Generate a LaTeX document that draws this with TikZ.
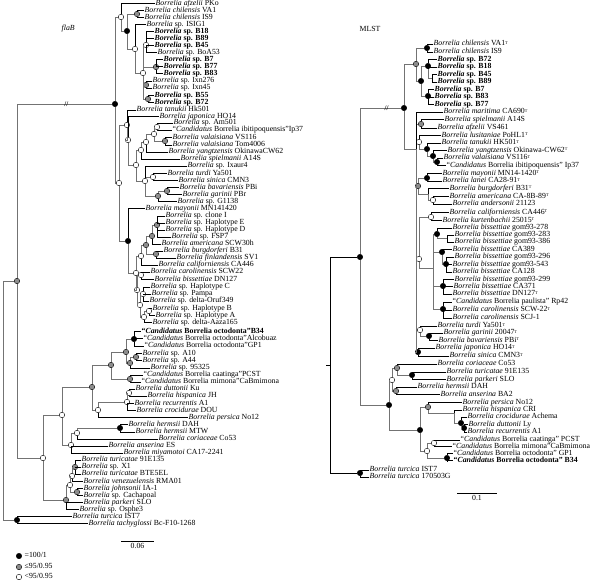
\documentclass[tikz,border=0pt]{standalone}
\usepackage{fontspec}
\setmainfont{Liberation Serif}
\usepackage{tikz}

\newcommand{\Bo}[2]{\textit{Borrelia #1} #2}
\newcommand{\Bs}[1]{\textit{Borrelia} sp. #1}
\newcommand{\Bb}[1]{\textbf{\textit{Borrelia} sp. #1}}
\newcommand{\Cand}[2]{“\textit{Candidatus} Borrelia #1”#2}
\newcommand{\Ty}{\raisebox{1.6pt}{\fontsize{4.2}{4}\selectfont T}}

\begin{document}
\begin{tikzpicture}[x=1pt, y=-1pt,
    lf/.style={anchor=west, inner sep=0.5pt, text height=5pt, text depth=1.5pt, font=\fontsize{7.8}{8}\selectfont},
    nb/.style={circle, draw=black, fill=black, line width=0.4pt, minimum size=5.5pt, inner sep=0pt},
    ng/.style={nb, fill=black!45},
    nw/.style={nb, fill=white},
    ik/.style={draw=black!55, line width=0.9pt},
    lk/.style={draw=black, line width=0.5pt},
    brk/.style={inner sep=0pt, font=\fontsize{7}{7}\selectfont\bfseries}
]
\useasboundingbox (0,0) rectangle (600,582);

% flaB tree
\node[lf, font=\fontsize{7.8}{8}\selectfont\itshape] (flab) at (61,29) {flaB};

\node[lf] (l-afz) at (155,3.5) {\Bo{afzelii}{PKo}};
\node[lf] (l-chva) at (144,10.5) {\Bo{chilensis}{VA1}};
\node[lf] (l-chis) at (144,17.5) {\Bo{chilensis}{IS9}};
\node[lf] (l-isig) at (146,24.5) {\Bs{ISIG1}};
\node[lf] (l-b18) at (154,31.5) {\Bb{B18}};
\node[lf] (l-b89) at (154,38.5) {\Bb{B89}};
\node[lf] (l-b45) at (154,45.5) {\Bb{B45}};
\node[lf] (l-boa) at (157,52.5) {\Bs{BoA53}};
\node[lf] (l-b7) at (163,59.5) {\Bb{B7}};
\node[lf] (l-b77) at (163,66.5) {\Bb{B77}};
\node[lf] (l-b83) at (163,73.5) {\Bb{B83}};
\node[lf] (l-ix276) at (152,81) {\Bs{Ixn276}};
\node[lf] (l-ix45) at (152,88) {\Bs{Ixn45}};
\node[lf] (l-b55) at (154,95.5) {\Bb{B55}};
\node[lf] (l-b72) at (154,102.5) {\Bb{B72}};
\node[lf] (l-tan) at (136,110) {\Bo{tanukii}{Hk501}};
\node[lf] (l-jap) at (159,116.5) {\Bo{japonica}{HO14}};
\node[lf] (l-am) at (173,123) {\Bs{Am501}};
\node[lf] (l-ibi) at (172,130) {\Cand{ibitipoquensis}{Ip37}};
\node[lf] (l-vs) at (172,137.5) {\Bo{valaisiana}{VS116}};
\node[lf] (l-tom) at (172,145) {\Bo{valaisiana}{Tom4006}};
\node[lf] (l-yan) at (168,152) {\Bo{yangtzensis}{OkinawaCW62}};
\node[lf] (l-spi) at (180,159) {\Bo{spielmanii}{A14S}};
\node[lf] (l-ixa) at (187,166) {\Bs{Ixaur4}};
\node[lf] (l-tur) at (167,173.5) {\Bo{turdi}{Ya501}};
\node[lf] (l-sin) at (178,180.5) {\Bo{sinica}{CMN3}};
\node[lf] (l-bav) at (179,187.5) {\Bo{bavariensis}{PBi}};
\node[lf] (l-gar) at (182,194.5) {\Bo{garinii}{PBr}};
\node[lf] (l-g11) at (177,201.5) {\Bs{G1138}};
\node[lf] (l-may) at (145,208.5) {\Bo{mayonii}{MN141420}};
\node[lf] (l-clI) at (165,216) {\Bs{clone I}};
\node[lf] (l-hE) at (165,223) {\Bs{Haplotype E}};
\node[lf] (l-hD) at (165,230) {\Bs{Haplotype D}};
\node[lf] (l-fsp) at (171,237) {\Bs{FSP7}};
\node[lf] (l-ame) at (161,244) {\Bo{americana}{SCW30h}};
\node[lf] (l-bur) at (163,251) {\Bo{burgdorferi}{B31}};
\node[lf] (l-fin) at (176,258) {\Bo{finlandensis}{SV1}};
\node[lf] (l-cal) at (158,265) {\Bo{californiensis}{CA446}};
\node[lf] (l-carS) at (150,272) {\Bo{carolinensis}{SCW22}};
\node[lf] (l-dn) at (154,279.5) {\Bo{bissettiae}{DN127}};
\node[lf] (l-hC) at (150,287) {\Bs{Haplotype C}};
\node[lf] (l-pum) at (151,294) {\Bs{Pampa}};
\node[lf] (l-oru) at (149,301) {\Bs{delta-Oruf349}};
\node[lf] (l-hB) at (152,308.5) {\Bs{Haplotype B}};
\node[lf] (l-hA) at (155,315.5) {\Bs{Haplotype A}};
\node[lf] (l-aaz) at (152,322.5) {\Bs{delta-Aaza165}};
\node[lf] (l-o34) at (141,331.5) {\textbf{\Cand{octodonta}{B34}}};
\node[lf] (l-oal) at (143,338.5) {\Cand{octodonta}{Alcobuaz}};
\node[lf] (l-ogp) at (144,346) {\Cand{octodonta}{GP1}};
\node[lf] (l-a10) at (142,353.5) {\Bs{A10}};
\node[lf] (l-a44) at (142,360.5) {\Bs{A44}};
\node[lf] (l-953) at (150,368) {\Bs{95325}};
\node[lf] (l-caa) at (143,375) {\Cand{caatinga}{PCST}};
\node[lf] (l-mim) at (141,382) {\Cand{mimona}{CaBmimona}};
\node[lf] (l-dut) at (135,389) {\Bo{duttonii}{Ku}};
\node[lf] (l-his) at (147,396) {\Bo{hispanica}{JH}};
\node[lf] (l-rec) at (134,403.5) {\Bo{recurrentis}{A1}};
\node[lf] (l-cro) at (136,410.5) {\Bo{crocidurae}{DOU}};
\node[lf] (l-per) at (188,417.5) {\Bo{persica}{No12}};
\node[lf] (l-hda) at (128,424.5) {\Bo{hermsii}{DAH}};
\node[lf] (l-hmt) at (135,432) {\Bo{hermsii}{MTW}};
\node[lf] (l-cor) at (158,439) {\Bo{coriaceae}{Co53}};
\node[lf] (l-ans) at (108,446) {\Bo{anserina}{ES}};
\node[lf] (l-miy) at (123,453) {\Bo{miyamotoi}{CA17-2241}};
\node[lf] (l-t91) at (81,460) {\Bo{turicatae}{91E135}};
\node[lf] (l-x1) at (81,467) {\Bs{X1}};
\node[lf] (l-bte) at (81,474) {\Bo{turicatae}{BTE5EL}};
\node[lf] (l-ven) at (83,481.5) {\Bo{venezuelensis}{RMA01}};
\node[lf] (l-joh) at (83,488.5) {\Bo{johnsonii}{IA-1}};
\node[lf] (l-cac) at (83,495.5) {\Bs{Cachapoal}};
\node[lf] (l-par) at (83,502.5) {\Bo{parkeri}{SLO}};
\node[lf] (l-osp) at (79,509.5) {\Bs{Osphe3}};
\node[lf] (l-ist) at (72,516.5) {\Bo{turcica}{IST7}};
\node[lf] (l-tac) at (88,523.5) {\Bo{tachyglossi}{Bc-F10-1268}};

\coordinate (r0) at (3,401);
\node[ng] (g0) at (17,281) {};
\node[nb] (t) at (17,520) {};
\node[nb] (m) at (115,104) {};
\node[nw] (a1) at (121,17) {};
\node[nb] (a2) at (127,31) {};
\node[ng] (a3) at (137,14) {};
\node[nw] (a4) at (135,49) {};
\node[nw] (a5) at (143,73) {};
\node[nw] (a6) at (146,45) {};
\node[ng] (a7) at (156,67) {};
\node[ng] (a8) at (146,85) {};
\node[ng] (a9) at (148,99) {};
\node[nw] (n1) at (119,183) {};
\node[nw] (p1) at (127,125) {};
\node[nw] (p2) at (128,140) {};
\node[nw] (p3) at (136,165) {};
\node[nw] (v1) at (141,150) {};
\node[nw] (v2) at (146,142) {};
\node[nw] (v3) at (154,134) {};
\node[nw] (v4) at (157,127) {};
\node[ng] (vv) at (165,141) {};
\node[nw] (w0) at (145,181) {};
\node[nw] (w2) at (153,177) {};
\node[ng] (w3) at (158,196) {};
\node[ng] (w4) at (167,191) {};
\node[nb] (q) at (128,241) {};
\node[nw] (q2) at (136,273) {};
\node[nw] (q3) at (141,256) {};
\node[ng] (q5) at (146,245) {};
\node[ng] (q6) at (152,236) {};
\node[ng] (q8) at (157,225) {};
\node[ng] (q7) at (156,254) {};
\node[nw] (q4) at (137,290) {};
\node[nw] (q9) at (141,275) {};
\node[nw] (q10) at (140,305) {};
\node[nw] (q11) at (143,294) {};
\node[nw] (q12) at (144,317) {};
\node[nw] (q13) at (149,311) {};
\node[nw] (r) at (43,458) {};
\node[nw] (r1) at (62,415) {};
\node[ng] (r3) at (92,387) {};
\node[ng] (r5) at (111,365) {};
\node[ng] (r7) at (126,352) {};
\node[nb] (r7a) at (134,339) {};
\node[ng] (r7b) at (130,363) {};
\node[ng] (r7c) at (136,357) {};
\node[ng] (r8) at (130,379) {};
\node[nw] (r6) at (98,410) {};
\node[nw] (r9) at (127,402) {};
\node[nw] (r10) at (129,393) {};
\node[nw] (r4) at (71,445) {};
\node[nw] (r12) at (77,433) {};
\node[nb] (r14) at (120,428) {};
\node[ng] (r2) at (66,500) {};
\node[nw] (r17) at (70,485) {};
\node[nw] (r16) at (72,476) {};
\node[ng] (r15) at (75,467) {};
\node[ng] (r18) at (77,492) {};

\draw[ik] (r0) |- (g0) (r0) |- (t) (g0) |- (r);
\draw[ik] (g0) |- node[brk, pos=0.76] {//} (m);
\draw[lk] (t) |- (l-ist) (t) |- (l-tac);
\draw[ik] (m) |- (a1) (m) |- (n1);
\draw[lk] (a1) |- (l-afz);
\draw[ik] (a1) |- (a2) (a2) |- (a3) (a2) |- (a4) (a4) |- (a5);
\draw[lk] (a3) |- (l-chva) (a3) |- (l-chis) (a4) |- (l-isig);
\draw[ik] (a5) |- (a6) (a5) |- (a7) (a5) |- (a8) (a5) |- (a9);
\draw[lk] (a6) |- (l-b18) (a6) |- (l-b89) (a6) |- (l-b45) (a6) |- (l-boa);
\draw[lk] (a7) |- (l-b7) (a7) |- (l-b77) (a7) |- (l-b83);
\draw[lk] (a8) |- (l-ix276) (a8) |- (l-ix45) (a9) |- (l-b55) (a9) |- (l-b72);
\draw[ik] (n1) |- (p1) (n1) |- (q);
\draw[ik] (p1) |- (p2) (p2) |- (p3) (p3) |- (v1) (p3) |- (w0);
\draw[lk] (p1) |- (l-tan) (p2) |- (l-jap);
\draw[ik] (v1) |- (v2) (v2) |- (v3) (v3) |- (v4) (v3) |- (vv);
\draw[lk] (v1) |- (l-spi) (v2) |- (l-yan) (v4) |- (l-am) (v4) |- (l-ibi);
\draw[lk] (vv) |- (l-vs) (vv) |- (l-tom);
\draw[ik] (w0) |- (w2) (w0) |- (w3) (w3) |- (w4);
\draw[lk] (w0) |- (l-ixa) (w2) |- (l-tur) (w2) |- (l-sin);
\draw[lk] (w3) |- (l-g11) (w4) |- (l-bav) (w4) |- (l-gar);
\draw[ik] (q) |- (q2) (q2) |- (q3) (q2) |- (q4) (q3) |- (q5);
\draw[ik] (q5) |- (q6) (q5) |- (q7) (q6) |- (q8);
\draw[lk] (q) |- (l-may) (q3) |- (l-cal) (q6) |- (l-ame);
\draw[lk] (q8) |- (l-clI) (q8) |- (l-hE) (q8) |- (l-hD) (q8) |- (l-fsp);
\draw[lk] (q7) |- (l-bur) (q7) |- (l-fin);
\draw[ik] (q4) |- (q9) (q4) |- (q10) (q10) |- (q11) (q10) |- (q12) (q12) |- (q13);
\draw[lk] (q9) |- (l-carS) (q9) |- (l-dn);
\draw[lk] (q11) |- (l-hC) (q11) |- (l-pum) (q11) |- (l-oru);
\draw[lk] (q13) |- (l-hB) (q13) |- (l-hA) (q12) |- (l-aaz);
\draw[ik] (r) |- (r1) (r) |- (r2) (r1) |- (r3) (r1) |- (r4);
\draw[ik] (r3) |- (r5) (r3) |- (r6) (r5) |- (r7) (r5) |- (r8);
\draw[ik] (r7) |- (r7a) (r7) |- (r7b) (r7b) |- (r7c);
\draw[lk] (r7a) |- (l-o34) (r7a) |- (l-oal) (r7a) |- (l-ogp);
\draw[lk] (r7c) |- (l-a10) (r7c) |- (l-a44) (r7b) |- (l-953);
\draw[lk] (r8) |- (l-caa) (r8) |- (l-mim);
\draw[ik] (r6) |- (r9) (r9) |- (r10);
\draw[lk] (r6) |- (l-per) (r9) |- (l-rec) (r9) |- (l-cro);
\draw[lk] (r10) |- (l-dut) (r10) |- (l-his);
\draw[ik] (r4) |- (r12) (r12) |- (r14);
\draw[lk] (r4) |- (l-ans) (r4) |- (l-miy) (r12) |- (l-cor);
\draw[lk] (r14) |- (l-hda) (r14) |- (l-hmt);
\draw[ik] (r2) |- (r17) (r17) |- (r16) (r17) |- (r18) (r16) |- (r15);
\draw[lk] (r2) |- (l-par) (r2) |- (l-osp) (r16) |- (l-ven);
\draw[lk] (r15) |- (l-t91) (r15) |- (l-x1) (r15) |- (l-bte);
\draw[lk] (r18) |- (l-joh) (r18) |- (l-cac);

% scale and legend
\coordinate (sa1) at (121,541);
\coordinate (sa2) at (154,541);
\draw[lk] (sa1) -- node[lf, anchor=north, yshift=-1.5pt] (sal) {0.06} (sa2);
\node[nb] (k1) at (19,556) {};
\node[lf] (k1t) at (24,556) {=100/1};
\node[ng] (k2) at (19,567) {};
\node[lf] (k2t) at (24,567) {≤95/0.95};
\node[nw] (k3) at (19,577) {};
\node[lf] (k3t) at (24,577) {<95/0.95};

% MLST tree
\node[lf] (mlst) at (359,30) {MLST};

\node[lf] (m-chva) at (433,44) {\Bo{chilensis}{VA1\Ty}};
\node[lf] (m-chis) at (433,52) {\Bo{chilensis}{IS9}};
\node[lf] (m-b72) at (437,59.5) {\Bb{B72}};
\node[lf] (m-b18) at (437,67) {\Bb{B18}};
\node[lf] (m-b45) at (437,74.5) {\Bb{B45}};
\node[lf] (m-b89) at (437,82) {\Bb{B89}};
\node[lf] (m-b7) at (434,89.5) {\Bb{B7}};
\node[lf] (m-b83) at (434,97) {\Bb{B83}};
\node[lf] (m-b77) at (434,104.5) {\Bb{B77}};
\node[lf] (m-mar) at (443,112) {\Bo{maritima}{CA690\Ty}};
\node[lf] (m-spi) at (444,119.5) {\Bo{spielmanii}{A14S}};
\node[lf] (m-afz) at (437,128) {\Bo{afzelii}{VS461}};
\node[lf] (m-lus) at (441,135.5) {\Bo{lusitaniae}{PoHL1\Ty}};
\node[lf] (m-tan) at (441,143) {\Bo{tanukii}{HK501\Ty}};
\node[lf] (m-yan) at (447,150.5) {\Bo{yangtzensis}{Okinawa-CW62\Ty}};
\node[lf] (m-val) at (443,158) {\Bo{valaisiana}{VS116\Ty}};
\node[lf] (m-ibi) at (446,165.5) {\Cand{ibitipoquensis}{ Ip37}};
\node[lf] (m-may) at (442,173.5) {\Bo{mayonii}{MN14-1420\Ty}};
\node[lf] (m-lan) at (442,181) {\Bo{lanei}{CA28-91\Ty}};
\node[lf] (m-bur) at (449,188.5) {\Bo{burgdorferi}{B31\Ty}};
\node[lf] (m-ame) at (449,196.5) {\Bo{americana}{CA-8B-89\Ty}};
\node[lf] (m-and) at (452,204) {\Bo{andersonii}{21123}};
\node[lf] (m-cal) at (449,212.5) {\Bo{californiensis}{CA446\Ty}};
\node[lf] (m-kur) at (442,220.5) {\Bo{kurtenbachii}{25015\Ty}};
\node[lf] (m-g278) at (452,228) {\Bo{bissettiae}{gom93-278}};
\node[lf] (m-g283) at (454,235) {\Bo{bissettiae}{gom93-283}};
\node[lf] (m-g386) at (454,242) {\Bo{bissettiae}{gom93-386}};
\node[lf] (m-c389) at (452,249.5) {\Bo{bissettiae}{CA389}};
\node[lf] (m-g296) at (454,257) {\Bo{bissettiae}{gom93-296}};
\node[lf] (m-g543) at (452,264.5) {\Bo{bissettiae}{gom93-543}};
\node[lf] (m-c128) at (452,272) {\Bo{bissettiae}{CA128}};
\node[lf] (m-g299) at (454,279.5) {\Bo{bissettiae}{gom93-299}};
\node[lf] (m-c371) at (453,286.5) {\Bo{bissettiae}{CA371}};
\node[lf] (m-dn) at (452,294) {\Bo{bissettiae}{DN127\Ty}};
\node[lf] (m-pau) at (452,302) {\Cand{paulista}{ Rp42}};
\node[lf] (m-cscw) at (452,310) {\Bo{carolinensis}{SCW-22\Ty}};
\node[lf] (m-cscj) at (452,318) {\Bo{carolinensis}{SCJ-1}};
\node[lf] (m-tur) at (437,326) {\Bo{turdi}{Ya501\Ty}};
\node[lf] (m-gar) at (443,333) {\Bo{garinii}{20047\Ty}};
\node[lf] (m-bav) at (438,340.5) {\Bo{bavariensis}{PBi\Ty}};
\node[lf] (m-jap) at (435,348) {\Bo{japonica}{HO14\Ty}};
\node[lf] (m-sin) at (449,356) {\Bo{sinica}{CMN3\Ty}};
\node[lf] (m-cor) at (437,364) {\Bo{coriaceae}{Co53}};
\node[lf] (m-t91) at (446,372) {\Bo{turicatae}{91E135}};
\node[lf] (m-par) at (446,379.5) {\Bo{parkeri}{SLO}};
\node[lf] (m-her) at (417,387) {\Bo{hermsii}{DAH}};
\node[lf] (m-ans) at (440,394.5) {\Bo{anserina}{BA2}};
\node[lf] (m-per) at (462,402.5) {\Bo{persica}{No12}};
\node[lf] (m-his) at (462,410) {\Bo{hispanica}{CRI}};
\node[lf] (m-cro) at (467,417) {\Bo{crocidurae}{Achema}};
\node[lf] (m-dut) at (468,424.5) {\Bo{duttonii}{Ly}};
\node[lf] (m-rec) at (467,432) {\Bo{recurrentis}{A1}};
\node[lf] (m-caa) at (460,440) {\Cand{caatinga}{ PCST}};
\node[lf] (m-mim) at (452,446.5) {\Cand{mimona}{CaBmimona}};
\node[lf] (m-ogp) at (453,453.5) {\Cand{octodonta}{ GP1}};
\node[lf] (m-o34) at (453,460.5) {\textbf{\Cand{octodonta}{ B34}}};
\node[lf] (m-ist) at (369,470) {\Bo{turcica}{IST7}};
\node[lf] (m-170) at (369,477) {\Bo{turcica}{170503G}};

\coordinate (mr0) at (326,365);
\coordinate (mroot) at (330,365);
\node[nb] (s1) at (360,257) {};
\node[nb] (st) at (360,473) {};
\node[nb] (s2) at (404,108) {};
\node[ng] (sg) at (416,64) {};
\node[nb] (sc) at (427,48) {};
\node[nb] (sb) at (421,81) {};
\node[nb] (sb1) at (428,66) {};
\coordinate (sb3) at (432,78);
\node[nb] (sb2) at (428,96) {};
\coordinate (s4) at (416,149);
\node[ng] (s5) at (421,124) {};
\node[nw] (s6) at (419,142) {};
\node[nb] (s6a) at (427,149) {};
\node[nb] (s6b) at (433,156) {};
\node[nb] (s6c) at (437,162) {};
\node[ng] (s7) at (418,186) {};
\node[nb] (s7a) at (427,178) {};
\coordinate (s7b) at (428,194);
\node[nw] (s7c) at (433,200) {};
\node[nw] (s9) at (419,259) {};
\node[nw] (s9a) at (431,217) {};
\coordinate (s9f) at (433,268);
\node[nb] (s9b) at (437,234) {};
\coordinate (s9e) at (447,238);
\node[nb] (s9c) at (442,252) {};
\node[nb] (s9h) at (446,264) {};
\node[nb] (s9g) at (443,286) {};
\node[nb] (s9i) at (443,309) {};
\node[nw] (s10) at (420,330) {};
\node[nb] (s10a) at (429,336) {};
\node[nb] (s11) at (418,352) {};
\node[nb] (s3) at (389,405) {};
\node[nw] (s12) at (392,380) {};
\node[ng] (ga) at (397,368) {};
\node[nb] (gb) at (412,375) {};
\node[ng] (gc) at (396,391) {};
\node[nb] (s13) at (420,430) {};
\node[ng] (s14) at (428,407) {};
\coordinate (s16) at (454,413);
\node[nb] (s17) at (461,423) {};
\node[nb] (s18) at (464,428) {};
\node[nw] (s15) at (427,451) {};
\node[nw] (s19) at (434,443) {};
\node[nb] (s20) at (447,458) {};

\draw[lk] (mr0) -- (mroot) (mroot) |- (s1) (mroot) |- (st);
\draw[lk] (st) |- (m-ist) (st) |- (m-170);
\draw[ik] (s1) |- node[brk, pos=0.825] {//} (s2);
\draw[ik] (s1) |- (s3);
\draw[ik] (s2) |- (sg) (s2) |- (s4) (sg) |- (sc) (sg) |- (sb);
\draw[ik] (sb) |- (sb1) (sb) |- (sb2) (sb1) |- (sb3);
\draw[lk] (sc) |- (m-chva) (sc) |- (m-chis);
\draw[lk] (sb1) |- (m-b72) (sb1) |- (m-b18) (sb3) |- (m-b45) (sb3) |- (m-b89);
\draw[lk] (sb2) |- (m-b7) (sb2) |- (m-b83) (sb2) |- (m-b77);
\draw[ik] (s4) |- (s5) (s4) |- (s6) (s4) |- (s7) (s4) |- (s9) (s4) |- (s10) (s4) |- (s11);
\draw[lk] (s4) |- (m-mar) (s5) |- (m-spi) (s5) |- (m-afz);
\draw[ik] (s6) |- (s6a) (s6a) |- (s6b) (s6b) |- (s6c);
\draw[lk] (s6) |- (m-lus) (s6a) |- (m-tan) (s6b) |- (m-yan) (s6c) |- (m-val) (s6c) |- (m-ibi);
\draw[ik] (s7) |- (s7a) (s7) |- (s7b) (s7b) |- (s7c);
\draw[lk] (s7a) |- (m-may) (s7a) |- (m-lan) (s7b) |- (m-bur) (s7c) |- (m-ame) (s7c) |- (m-and);
\draw[ik] (s9) |- (s9a) (s9) |- (s9f);
\draw[ik] (s9f) |- (s9b) (s9f) |- (s9c) (s9f) |- (s9g) (s9f) |- (s9i) (s9b) |- (s9e) (s9c) |- (s9h);
\draw[lk] (s9a) |- (m-cal) (s9a) |- (m-kur) (s9b) |- (m-g278) (s9e) |- (m-g283) (s9e) |- (m-g386);
\draw[lk] (s9c) |- (m-c389) (s9h) |- (m-g296) (s9h) |- (m-g543) (s9h) |- (m-c128);
\draw[lk] (s9g) |- (m-g299) (s9g) |- (m-c371) (s9g) |- (m-dn);
\draw[lk] (s9i) |- (m-pau) (s9i) |- (m-cscw) (s9i) |- (m-cscj);
\draw[ik] (s10) |- (s10a);
\draw[lk] (s10) |- (m-tur) (s10a) |- (m-gar) (s10a) |- (m-bav) (s11) |- (m-jap) (s11) |- (m-sin);
\draw[ik] (s3) |- (s12) (s3) |- (s13) (s12) |- (ga) (s12) |- (gc) (ga) |- (gb);
\draw[lk] (ga) |- (m-cor) (gb) |- (m-t91) (gb) |- (m-par) (gc) |- (m-her) (gc) |- (m-ans);
\draw[ik] (s13) |- (s14) (s13) |- (s15) (s14) |- (s16) (s16) |- (s17) (s17) |- (s18) (s15) |- (s19) (s15) |- (s20);
\draw[lk] (s14) |- (m-per) (s16) |- (m-his) (s17) |- (m-cro) (s18) |- (m-dut) (s18) |- (m-rec);
\draw[lk] (s19) |- (m-caa) (s19) |- (m-mim) (s20) |- (m-ogp) (s20) |- (m-o34);

\coordinate (sm1) at (457,493);
\coordinate (sm2) at (497,493);
\draw[lk] (sm1) -- node[lf, anchor=north, yshift=-1.5pt] (sml) {0.1} (sm2);

\end{tikzpicture}
\end{document}
